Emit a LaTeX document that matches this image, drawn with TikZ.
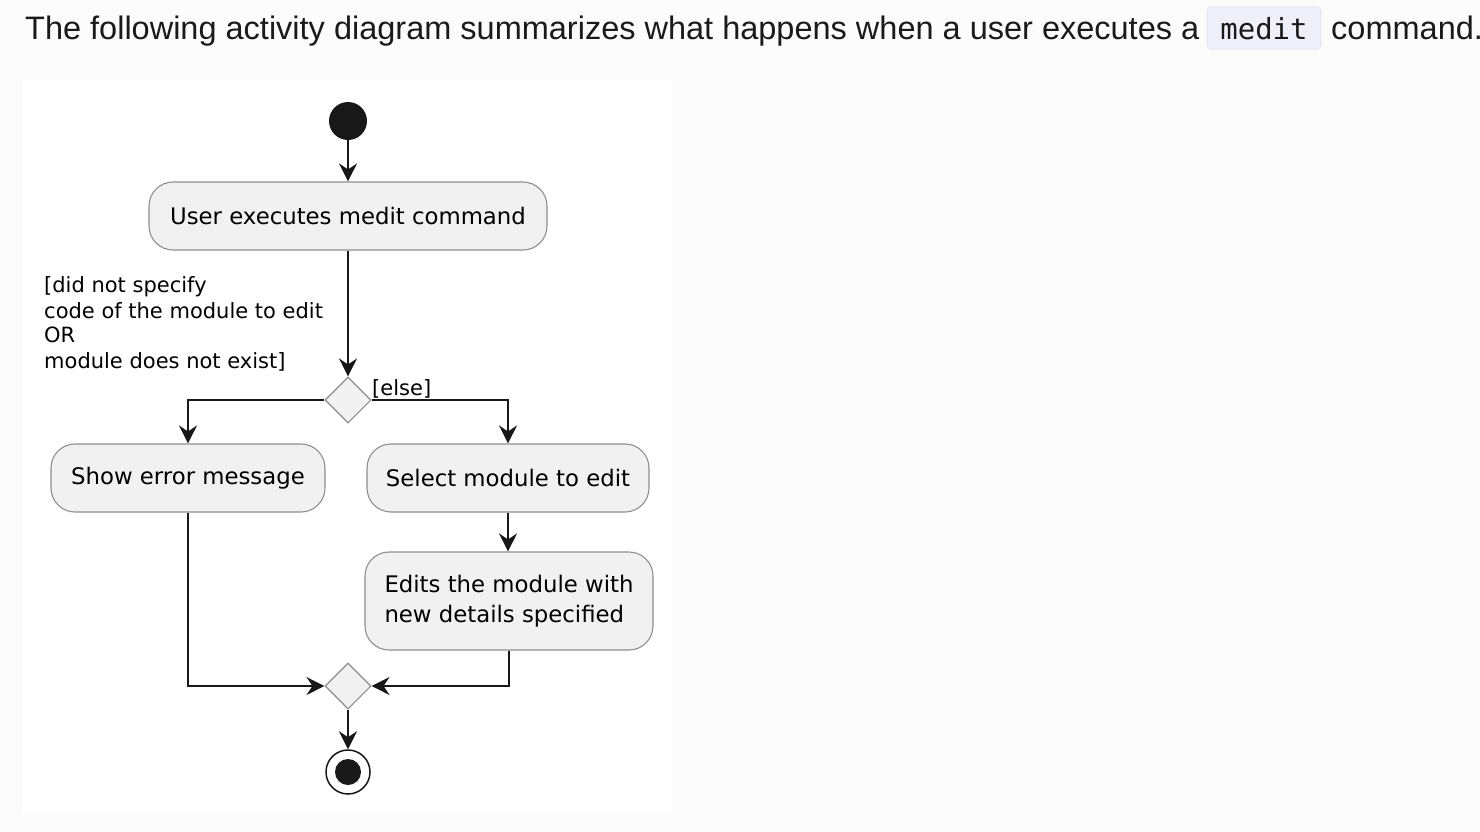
\documentclass[tikz,border=0pt]{standalone}
\usepackage{fontspec}
\setmainfont{Liberation Sans}
\newfontfamily\diagfont{DejaVu Sans}
\newfontfamily\codefont{DejaVu Sans Mono}
\usetikzlibrary{arrows.meta,shapes.geometric}
\definecolor{pagebg}{HTML}{FCFCFC}
\definecolor{boxfill}{HTML}{F1F1F1}
\definecolor{boxline}{HTML}{8E8E8E}
\definecolor{ink}{HTML}{181818}
\definecolor{headink}{HTML}{1A1A1A}
\definecolor{codebg}{HTML}{EFEFFA}
\definecolor{codeline}{HTML}{E3E3EF}
\begin{document}
\begin{tikzpicture}[x=1pt,y=-1pt,
  act/.style={draw=boxline, fill=boxfill, rounded corners=24pt, line width=1.1pt,
    font=\diagfont\fontsize{22.8}{30}\selectfont, inner sep=0pt, text=black},
  decision/.style={draw=boxline, fill=boxfill, diamond, line width=1.1pt,
    minimum width=46pt, minimum height=46pt, inner sep=0pt},
  flow/.style={draw=ink, line width=1.5pt, -{Stealth[length=18pt,width=18pt,inset=6pt]}},
  guard/.style={font=\diagfont\fontsize{21}{25}\selectfont, inner sep=0pt, text=black},
  head/.style={font=\fontsize{32.5}{39}\selectfont, text=headink, inner sep=0pt}
]
\useasboundingbox[fill=pagebg] (0,0) rectangle (1480,832);
\fill[white] (23,80) rectangle (672,813);

% heading
\node[head, anchor=base west] (h1) at (25,40) {The following activity diagram summarizes what happens when a user executes a};
\draw[codeline, fill=codebg, rounded corners=4pt, line width=0.8pt] (1207,7) rectangle (1321,49);
\node[font=\codefont\fontsize{29}{34}\selectfont, text=headink, inner sep=0pt, anchor=base] (code) at (1264,40) {medit};
\node[head, anchor=base west] (h2) at (1331,40) {command.};

% nodes
\node[circle, fill=ink, minimum size=38pt, inner sep=0pt] (start) at (348,121) {};
\node[act, minimum width=398pt, minimum height=68pt] (a1) at (348,216) {User executes medit command};
\node[decision] (dec) at (348,400) {};
\node[act, minimum width=274pt, minimum height=68pt] (a2) at (188,478) {Show error message};
\node[act, minimum width=282pt, minimum height=68pt] (a3) at (508,478) {Select module to edit};
\node[act, minimum width=288pt, minimum height=98pt, align=left] (a4) at (509,601) {Edits the module with\\new details specified};
\node[decision] (mer) at (348,686) {};
\node[circle, draw=ink, fill=white, line width=1.5pt, minimum size=44pt, inner sep=0pt] (stop) at (348,772) {};
\node[circle, fill=ink, minimum size=26pt, inner sep=0pt] (stopin) at (348,772) {};

% guards
\node[guard, anchor=base west] (g1a) at (44,292) {[did not specify};
\node[guard, anchor=base west] (g1b) at (44,318) {code of the module to edit};
\node[guard, anchor=base west] (g1c) at (44,342) {OR};
\node[guard, anchor=base west] (g1d) at (44,368) {module does not exist]};
\node[guard, anchor=base west] (g2) at (372,395) {[else]};

% connectors
\draw[flow] (start) -- (a1);
\draw[flow] (a1) -- (dec);
\draw[flow] (dec.west) -| (a2.north);
\draw[flow] (dec.east) -| (a3.north);
\draw[flow] (a3) -- (a4.north -| a3);
\draw[flow] (a2.south) |- (mer.west);
\draw[flow] (a4.south) |- (mer.east);
\draw[flow] (mer) -- (stop);
\end{tikzpicture}
\end{document}
